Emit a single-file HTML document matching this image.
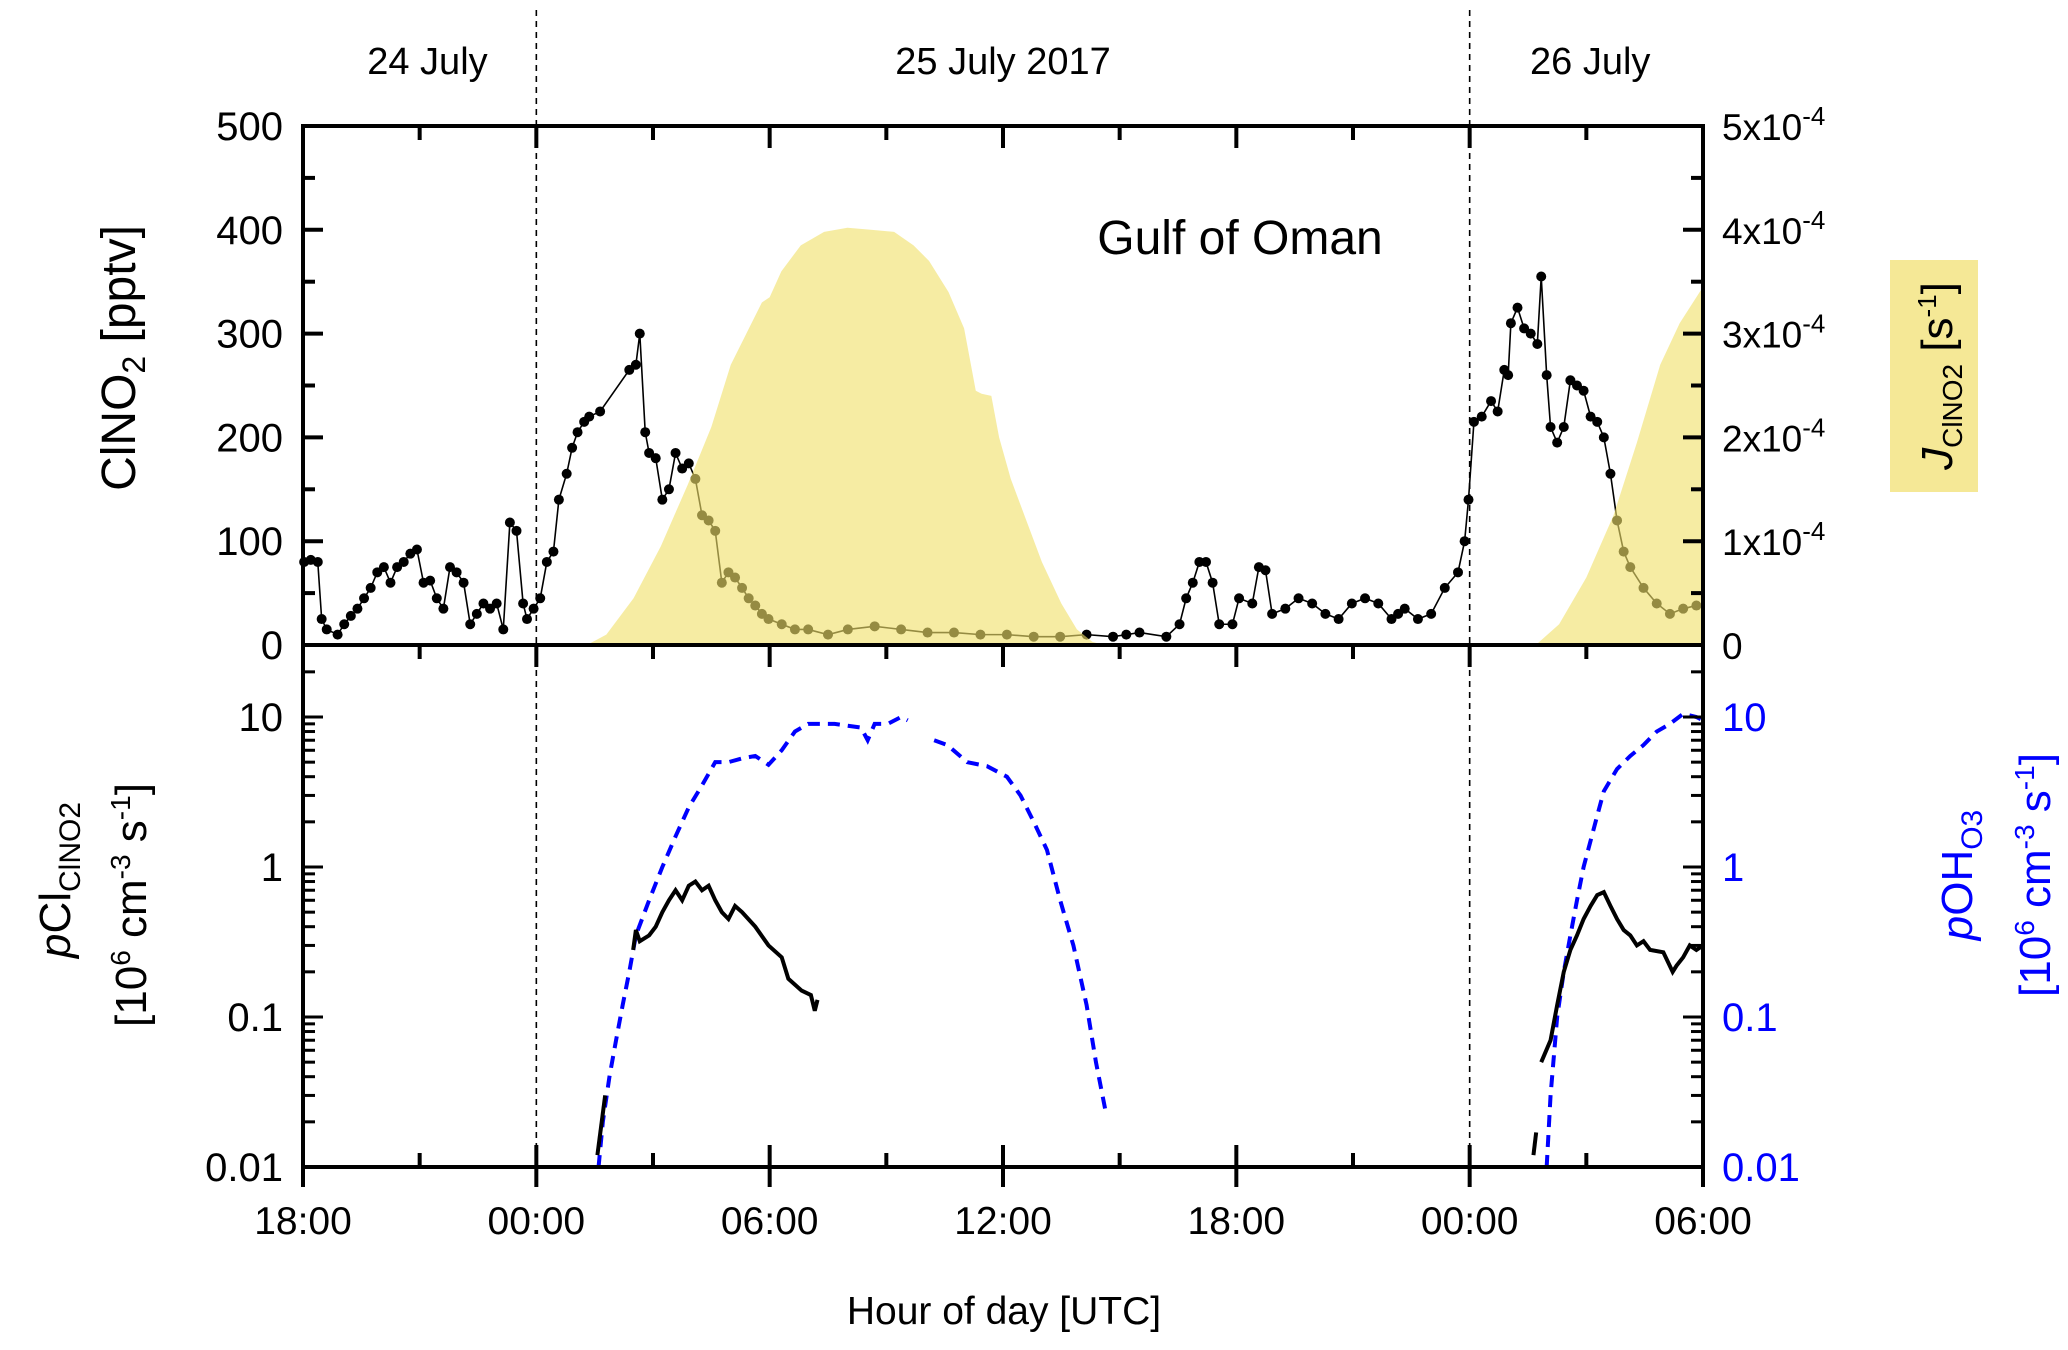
<!DOCTYPE html>
<html><head><meta charset="utf-8"><style>
html,body{margin:0;padding:0;background:#fff;}
svg{display:block;font-family:"Liberation Sans",Arial,sans-serif;}
</style></head><body>
<svg id="chart" width="2068" height="1350" viewBox="0 0 2068 1350" xmlns="http://www.w3.org/2000/svg">
<g id="layer"></g>
</svg>
<script>
// ---- data (hours since 24 July 18:00 UTC) ----
const clnoT = [0.03,0.2,0.38,0.48,0.61,0.89,1.06,1.23,1.4,1.57,1.74,1.91,2.08,2.25,2.42,2.59,2.76,2.93,3.1,3.27,3.44,3.61,3.78,3.95,4.13,4.3,4.47,4.64,4.81,4.98,5.15,5.32,5.49,5.66,5.76,5.93,6.1,6.27,6.44,6.58,6.78,6.92,7.06,7.23,7.36,7.64,8.39,8.56,8.66,8.8,8.9,9.07,9.24,9.41,9.58,9.75,9.92,10.09,10.26,10.43,10.6,10.77,10.94,11.11,11.29,11.46,11.63,11.8,11.97,12.31,12.65,12.99,13.5,14.01,14.7,15.38,16.06,16.74,17.42,18.1,18.79,19.47,20.15,20.83,21.17,21.51,22.2,22.54,22.71,22.88,23.05,23.22,23.39,23.56,23.9,24.07,24.41,24.58,24.75,24.92,25.26,25.6,25.95,26.29,26.63,26.97,27.31,27.65,27.99,28.16,28.33,28.67,29.01,29.36,29.7,29.87,29.97,30.11,30.31,30.55,30.72,30.89,30.99,31.06,31.23,31.4,31.57,31.74,31.84,31.98,32.08,32.25,32.42,32.59,32.76,32.93,33.11,33.28,33.45,33.62,33.79,33.96,34.13,34.47,34.81,35.15,35.49,35.83];
const clnoV = [80,82,80,25,15,10,20,28,35,45,55,70,75,60,75,80,88,92,60,62,45,35,75,70,60,20,30,40,35,40,15,118,110,40,25,35,45,80,90,140,165,190,205,215,220,225,265,270,300,205,185,180,140,150,185,170,175,160,125,120,110,60,70,65,55,45,38,30,25,20,15,15,10,15,18,15,12,12,10,10,8,8,10,8,10,12,8,20,45,60,80,80,60,20,20,45,40,75,72,30,35,45,40,30,25,40,45,40,25,30,35,25,30,55,70,100,140,215,220,235,225,265,260,310,325,305,300,290,355,260,210,195,210,255,250,245,220,215,200,165,120,90,75,55,40,30,35,38];
const jT = [7.3,7.8,8.5,9.2,9.9,10.5,11.0,11.4,11.8,12.0,12.3,12.8,13.4,14.0,14.6,15.2,15.7,16.1,16.6,17.0,17.3,17.45,17.7,17.9,18.2,18.6,19.0,19.5,19.9,20.3,20.6,30.2,31.7,32.3,33.0,33.7,34.3,34.9,35.4,36.0];
const jV = [0,0.1,0.45,0.95,1.55,2.1,2.7,3.0,3.3,3.35,3.6,3.85,3.98,4.02,4.0,3.98,3.85,3.7,3.4,3.05,2.45,2.42,2.4,2.0,1.6,1.2,0.8,0.4,0.15,0.03,0,0,0,0.2,0.65,1.25,1.95,2.7,3.1,3.45];
const pclT = [[7.57,7.77],[8.49,8.56,8.66,8.9,9.07,9.24,9.41,9.58,9.75,9.92,10.09,10.26,10.43,10.6,10.77,10.94,11.11,11.29,11.63,11.97,12.31,12.48,12.82,13.06,13.16,13.23],[31.64,31.71],[31.84,32.08,32.25,32.42,32.59,32.76,32.93,33.11,33.28,33.45,33.62,33.79,33.96,34.13,34.3,34.47,34.64,34.98,35.22,35.32,35.49,35.66,35.83,36]];
const pclV = [[0.012,0.03],[0.28,0.38,0.32,0.35,0.4,0.5,0.6,0.7,0.6,0.75,0.8,0.7,0.75,0.6,0.5,0.45,0.55,0.5,0.4,0.3,0.25,0.18,0.15,0.14,0.11,0.13],[0.012,0.017],[0.05,0.07,0.12,0.2,0.28,0.35,0.45,0.55,0.65,0.68,0.55,0.45,0.38,0.35,0.3,0.32,0.28,0.27,0.2,0.22,0.25,0.3,0.28,0.3]];
const pohT = [[7.6,7.71,7.88,8.05,8.22,8.39,8.56,8.9,9.24,9.58,9.92,10.26,10.6,10.94,11.29,11.63,11.97,12.31,12.65,12.99,13.67,14.35,14.52,14.7,15.04,15.38,15.55],[16.23,16.57,17.08,17.59,18.1,18.45,18.79,19.13,19.47,19.81,20.15,20.39,20.66],[31.98,32.08,32.25,32.42,32.59,32.76,32.93,33.11,33.28,33.45,33.79,34.13,34.47,34.81,35.15,35.49,35.83,36]];
const pohV = [[0.01,0.02,0.04,0.07,0.12,0.2,0.35,0.6,1.0,1.6,2.5,3.5,5,5,5.3,5.5,4.8,6,8,9,9,8.5,7,9,9,10,9.5],[7,6.5,5,4.7,4,3,2,1.3,0.6,0.3,0.12,0.05,0.022],[0.01,0.03,0.1,0.2,0.35,0.6,1.0,1.5,2.2,3.2,4.5,5.5,6.5,8,9,10.5,10,9.5]];
const xTickLabels = ["18:00","00:00","06:00","12:00","18:00","00:00","06:00"];
const leftTopTicks = [0,100,200,300,400,500];
const rightTopTicks = ["0","1x10","2x10","3x10","4x10","5x10"];
const logTicks = ["0.01","0.1","1","10"];
const dayLabels = ["24 July","25 July 2017","26 July"];

// ---- axes ----
const X0=303, X1=1703, YT0=126, YT1=645, YB1=1167, DEC=150;
const x = h => X0 + (h/36)*(X1-X0);
const yTop = v => YT1 - v/500*(YT1-YT0);
const yJ = v => YT1 - v/5*(YT1-YT0);
const yLog = v => YB1 - (Math.log10(v)+2)*DEC;

const NS="http://www.w3.org/2000/svg";
const L=document.getElementById('layer');
function mk(tag,attrs,parent){const e=document.createElementNS(NS,tag);for(const k in attrs)e.setAttribute(k,attrs[k]);(parent||L).appendChild(e);return e;}

// J area
let d=`M${x(jT[0])},${YT1}`;
jT.forEach((t,i)=>{d+=`L${x(t)},${yJ(jV[i])}`;});
d+=`L${x(jT[jT.length-1])},${YT1}Z`;

// ClNO2 line + points
let ld='';
clnoT.forEach((t,i)=>{ld+=(i?'L':'M')+x(t)+','+yTop(clnoV[i]);});
const cl=mk('path',{d:ld,fill:'none',stroke:'#000','stroke-width':1.6});


clnoT.forEach((t,i)=>{
  const c=mk('circle',{cx:x(t),cy:yTop(clnoV[i]),r:5,fill:'#000'});
  
  
});
const ja=mk('path',{d:d,fill:'#f0e06a','fill-opacity':0.62});



// clip for bottom panel
const defs=mk('defs',{});
const cp=mk('clipPath',{id:'bclip'},defs);
mk('rect',{x:X0,y:YT1,width:X1-X0,height:YB1-YT1+2},cp);

pohT.forEach((seg,s)=>{
  let p='';seg.forEach((t,i)=>{p+=(i?'L':'M')+x(t)+','+yLog(pohV[s][i]);});
  const e=mk('path',{d:p,fill:'none',stroke:'#0000ff','stroke-width':4,'stroke-dasharray':'12,8','clip-path':'url(#bclip)'});
  
  
});
pclT.forEach((seg,s)=>{
  let p='';seg.forEach((t,i)=>{p+=(i?'L':'M')+x(t)+','+yLog(pclV[s][i]);});
  const e=mk('path',{d:p,fill:'none',stroke:'#000','stroke-width':4,'clip-path':'url(#bclip)'});
  
  
});

// dashed day separators
[6,30].forEach(h=>{
  const e=mk('line',{x1:x(h),x2:x(h),y1:10,y2:YB1,stroke:'#000','stroke-width':1.6,'stroke-dasharray':'6,5'});
  
  
});

// frames
const f1=mk('rect',{x:X0,y:YT0,width:X1-X0,height:YT1-YT0,fill:'none',stroke:'#000','stroke-width':4});


const f2=mk('rect',{x:X0,y:YT1,width:X1-X0,height:YB1-YT1,fill:'none',stroke:'#000','stroke-width':4});



// x ticks
for(let h=0;h<=36;h+=3){
  const maj=h%6===0, len=maj?22:14;
  [YT0,YT1].forEach(yy=>{
    const t=mk('line',{x1:x(h),x2:x(h),y1:yy,y2:yy+len,stroke:'#000','stroke-width':4});
    
    
  });
  const t=mk('line',{x1:x(h),x2:x(h),y1:YB1,y2:YB1-len,stroke:'#000','stroke-width':4});
  
  
  if(maj){
    const b=mk('line',{x1:x(h),x2:x(h),y1:YB1,y2:YB1+20,stroke:'#000','stroke-width':4});
    
    
  }
}
xTickLabels.forEach((s,i)=>{
  const t=mk('text',{x:x(i*6),y:1234,'font-size':39,'text-anchor':'middle'});
  t.textContent=s;
  
  
});

// top left ticks
for(let v=0;v<=500;v+=50){
  const maj=v%100===0;
  const t=mk('line',{x1:X0,x2:X0+(maj?20:12),y1:yTop(v),y2:yTop(v),stroke:'#000','stroke-width':4});
  
  
  const r=mk('line',{x1:X1,x2:X1-(maj?20:12),y1:yTop(v),y2:yTop(v),stroke:'#000','stroke-width':4});
  
  
}
leftTopTicks.forEach(v=>{
  const t=mk('text',{x:283,y:yTop(v)+14,'font-size':40,'text-anchor':'end'});
  t.textContent=v;
  
  
});
rightTopTicks.forEach((s,i)=>{
  const t=mk('text',{x:1722,y:yJ(i)+14,'font-size':37});
  
  
  if(i===0){t.textContent=s;}
  else{t.textContent=s;const sp=mk('tspan',{dy:-15,'font-size':26},t);sp.textContent='-4';}
});

// log ticks
for(let e=-2;e<=1;e++){
  for(let m=1;m<=9;m++){
    const v=m*Math.pow(10,e), yy=yLog(v);
    if(yy<YT1)continue;
    const len=m===1?20:12;
    const t=mk('line',{x1:X0,x2:X0+len,y1:yy,y2:yy,stroke:'#000','stroke-width':3});
    
    
    const r=mk('line',{x1:X1,x2:X1-len,y1:yy,y2:yy,stroke:'#000','stroke-width':3});
    
    
  }
}
logTicks.forEach(s=>{
  const v=parseFloat(s);
  const t=mk('text',{x:283,y:yLog(v)+14,'font-size':40,'text-anchor':'end'});
  t.textContent=s;
  
  
  const r=mk('text',{x:1722,y:yLog(v)+14,'font-size':40,fill:'#0000ff'});
  r.textContent=s;
  
  
});

// day labels
[[x(3.2),dayLabels[0]],[x(18.0),dayLabels[1]],[x(33.1),dayLabels[2]]].forEach(([xx,s])=>{
  const t=mk('text',{x:xx,y:74,'font-size':38,'text-anchor':'middle'});
  t.textContent=s;
  
  
});
</script>
<svg style="position:absolute;left:0;top:0" width="2068" height="1350" font-family="Liberation Sans, Arial, sans-serif">
  <text x="1240" y="254" font-size="48" text-anchor="middle">Gulf of Oman</text>
  <text x="1004" y="1324" font-size="39" text-anchor="middle">Hour of day [UTC]</text>
  <text transform="translate(135,358) rotate(-90)" font-size="48" text-anchor="middle">ClNO<tspan font-size="32" dy="10">2</tspan><tspan dy="-10"> [pptv]</tspan></text>
  <rect x="1890" y="260" width="88" height="232" fill="#f5e896"/>
  <text transform="translate(1952,376) rotate(-90)" font-size="44" text-anchor="middle"><tspan font-style="italic">J</tspan><tspan font-size="28" dy="10">ClNO2</tspan><tspan dy="-10"> [s</tspan><tspan font-size="26" dy="-16">-1</tspan><tspan dy="16">]</tspan></text>
  <text transform="translate(70,880) rotate(-90)" font-size="44" text-anchor="middle"><tspan font-style="italic">p</tspan>Cl<tspan font-size="30" dy="10">ClNO2</tspan></text>
  <text transform="translate(146,905) rotate(-90)" font-size="44" text-anchor="middle">[10<tspan font-size="28" dy="-16">6</tspan><tspan dy="16"> cm</tspan><tspan font-size="28" dy="-16">-3</tspan><tspan dy="16"> s</tspan><tspan font-size="28" dy="-16">-1</tspan><tspan dy="16">]</tspan></text>
  <text transform="translate(1972,875) rotate(-90)" font-size="44" text-anchor="middle" fill="#0000ff"><tspan font-style="italic">p</tspan>OH<tspan font-size="30" dy="10">O3</tspan></text>
  <text transform="translate(2050,875) rotate(-90)" font-size="44" text-anchor="middle" fill="#0000ff">[10<tspan font-size="28" dy="-16">6</tspan><tspan dy="16"> cm</tspan><tspan font-size="28" dy="-16">-3</tspan><tspan dy="16"> s</tspan><tspan font-size="28" dy="-16">-1</tspan><tspan dy="16">]</tspan></text>
</svg>
</body></html>
